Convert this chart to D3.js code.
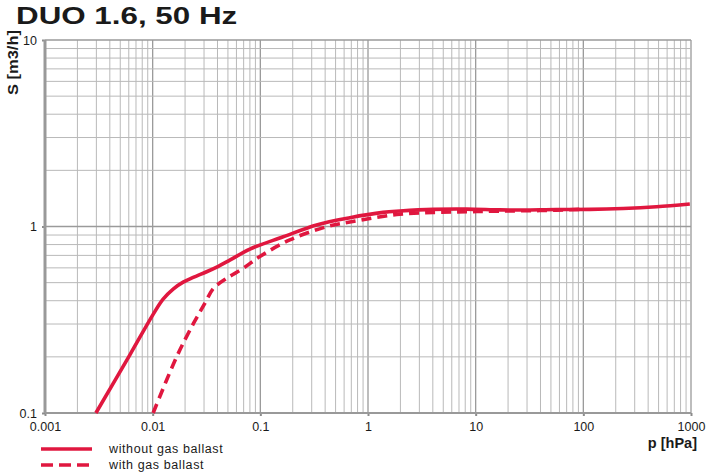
<!DOCTYPE html>
<html>
<head>
<meta charset="utf-8">
<script src="https://cdn.jsdelivr.net/npm/d3@7"></script>
<style>
	body{margin:0;background:#fff;}
	svg{display:block;font-family:Arial,"Liberation Sans",Helvetica,sans-serif;}
</style>
</head>
<body>
<div id="chart"></div>
<script>
// pressure p [hPa] and pumping speed S [m3/h]
const solidP = [0.00297, 0.0062, 0.0101, 0.0125, 0.0155, 0.0192, 0.0238, 0.0317, 0.0407, 0.052, 0.080, 0.163, 0.333, 0.679, 1.38, 1.98, 4.03, 8.2, 16.8, 27.6, 56, 115, 234, 478, 975];
const solidS = [0.1, 0.207, 0.338, 0.408, 0.462, 0.503, 0.533, 0.572, 0.612, 0.66, 0.757, 0.881, 1.02, 1.115, 1.19, 1.21, 1.236, 1.24, 1.228, 1.226, 1.234, 1.236, 1.25, 1.277, 1.32];

const dashP = [0.0101, 0.0167, 0.0240, 0.0306, 0.0366, 0.0486, 0.0694, 0.099, 0.188, 0.413, 0.84, 1.85, 4.03, 8.2, 16.8, 39.5, 92.7];
const dashS = [0.1, 0.2, 0.303, 0.388, 0.465, 0.527, 0.597, 0.69, 0.848, 0.997, 1.08, 1.16, 1.19, 1.20, 1.21, 1.218, 1.236];

const xTicks = [0.001, 0.01, 0.1, 1, 10, 100, 1000];
const xTickLabels = ['0.001', '0.01', '0.1', '1', '10', '100', '1000'];
const yTicks = [0.1, 1, 10];
const yTickLabels = ['0.1', '1', '10'];

const seriesNames = ['without gas ballast', 'with gas ballast'];

const W = 709, H = 473;
const margin = {t:40, r:18, b:60, l:45};
const w = W - margin.l - margin.r;
const h = H - margin.t - margin.b;
const red = '#e0173f';

const x = d3.scaleLog().domain([0.001, 1000]).range([0, w]);
const y = d3.scaleLog().domain([0.1, 10]).range([h, 0]);

const svg = d3.select('#chart').append('svg')
	.attr('width', W)
	.attr('height', H);

//title
svg.append('text')
	.attr('transform', 'translate(16,24) scale(1.28,1)')
	.style('font-size', '24.5px')
	.style('font-weight', 'bold')
	.style('fill', '#1a1a1a')
	.text('DUO 1.6, 50 Hz');

const plot = svg.append('g')
	.attr('transform', `translate(${margin.l}, ${margin.t})`);

//grid: every 1..9 per decade
const minorX = [];
for (let e = -3; e < 3; e++) for (let k = 1; k < 10; k++) minorX.push(k * Math.pow(10, e));
minorX.push(1000);
const minorY = [];
for (let e = -1; e < 1; e++) for (let k = 1; k < 10; k++) minorY.push(k * Math.pow(10, e));
minorY.push(10);

plot.append('g').selectAll('line')
	.data(minorX)
	.enter().append('line')
	.attr('x1', d => x(d)).attr('x2', d => x(d))
	.attr('y1', 0).attr('y2', h)
	.style('stroke', d => xTicks.includes(d) ? '#9a9a9a' : '#b9b9b9')
	.style('stroke-width', d => xTicks.includes(d) ? 1.3 : 1);

plot.append('g').selectAll('line')
	.data(minorY)
	.enter().append('line')
	.attr('x1', 0).attr('x2', w)
	.attr('y1', d => y(d)).attr('y2', d => y(d))
	.style('stroke', d => yTicks.includes(d) ? '#9a9a9a' : '#b9b9b9')
	.style('stroke-width', d => yTicks.includes(d) ? 1.3 : 1);

//axes
const xAxis = d3.axisBottom(x)
	.tickValues(xTicks)
	.tickFormat((d, i) => xTickLabels[i])
	.tickSize(3)
	.tickPadding(6);
const yAxis = d3.axisLeft(y)
	.tickValues(yTicks)
	.tickFormat((d, i) => yTickLabels[i])
	.tickSize(3)
	.tickPadding(5);

const gx = plot.append('g')
	.attr('transform', `translate(0, ${h})`)
	.call(xAxis);
const gy = plot.append('g').call(yAxis);

[gx, gy].forEach(g => {
	g.select('.domain').remove();
	g.selectAll('line').style('stroke', '#8c8c8c').style('stroke-width', 2);
	g.selectAll('text')
		.style('font-family', 'Arial,"Liberation Sans",sans-serif')
		.style('font-size', '12.5px')
		.style('fill', '#1a1a1a');
});

plot.append('line')
	.attr('x1', 0).attr('x2', w)
	.attr('y1', h).attr('y2', h)
	.style('stroke', '#999').style('stroke-width', 2.2);
plot.append('line')
	.attr('x1', 0).attr('x2', 0)
	.attr('y1', 0).attr('y2', h)
	.style('stroke', '#999').style('stroke-width', 3);

//axis titles
svg.append('text')
	.attr('transform', 'translate(17.5,95) rotate(-90)')
	.attr('textLength', 65)
	.attr('lengthAdjust', 'spacingAndGlyphs')
	.style('font-size', '15px')
	.style('font-weight', 'bold')
	.style('fill', '#1a1a1a')
	.text('S [m3/h]');

svg.append('text')
	.attr('x', 697)
	.attr('y', 448)
	.attr('text-anchor', 'end')
	.style('font-size', '14.5px')
	.style('font-weight', 'bold')
	.style('fill', '#1a1a1a')
	.text('p [hPa]');

//curves
const line = d3.line()
	.x(d => x(d[0]))
	.y(d => y(d[1]))
	.curve(d3.curveCatmullRom.alpha(0.5));

const dashData = dashP.map((p, i) => [p, dashS[i]]);
const solidData = solidP.map((p, i) => [p, solidS[i]]);

plot.append('path')
	.datum(dashData)
	.attr('d', line)
	.style('fill', 'none')
	.style('stroke', red)
	.style('stroke-width', 3.6)
	.style('stroke-dasharray', '10,6');

plot.append('path')
	.datum(solidData)
	.attr('d', line)
	.style('fill', 'none')
	.style('stroke', red)
	.style('stroke-width', 3.6);

//legend
const legend = svg.append('g');
const legendY = [449, 465];

legend.selectAll('line')
	.data(seriesNames)
	.enter().append('line')
	.attr('x1', 41)
	.attr('x2', (d, i) => i === 0 ? 92 : 89)
	.attr('y1', (d, i) => legendY[i])
	.attr('y2', (d, i) => legendY[i])
	.style('stroke', red)
	.style('stroke-width', 3.6)
	.style('stroke-dasharray', (d, i) => i === 0 ? null : '12,6');

legend.selectAll('text')
	.data(seriesNames)
	.enter().append('text')
	.attr('x', 109)
	.attr('y', (d, i) => legendY[i] + 4)
	.style('font-size', '12.5px')
	.style('letter-spacing', '0.6px')
	.style('fill', '#1a1a1a')
	.text(d => d);
</script>
</body>
</html>
